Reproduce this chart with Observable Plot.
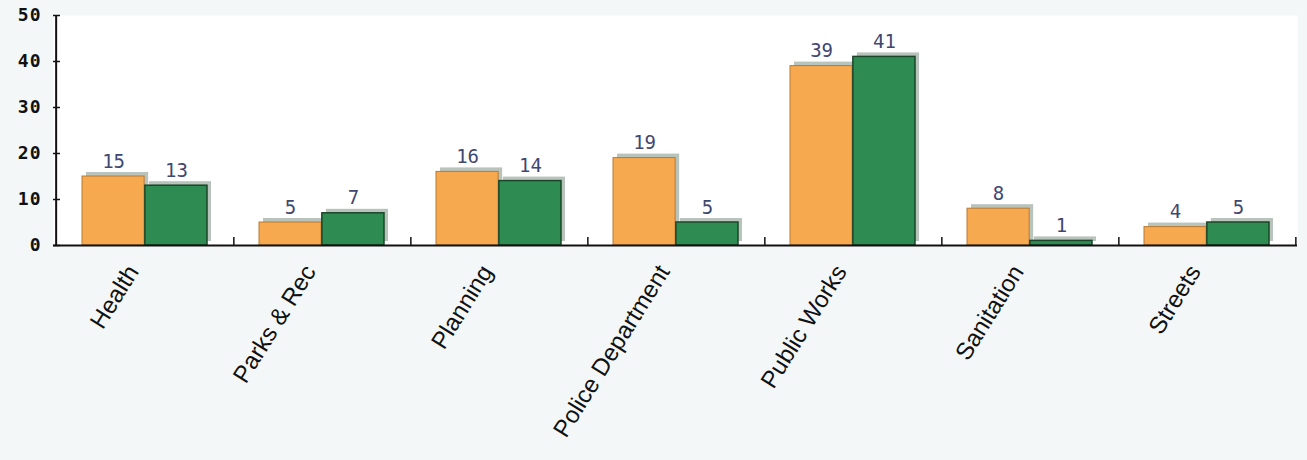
<!DOCTYPE html>
<html><head><meta charset="utf-8">
<script src="https://cdn.jsdelivr.net/npm/d3@7"></script>
<script src="https://cdn.jsdelivr.net/npm/@observablehq/plot@0.6"></script>
<style>
html,body{margin:0;padding:0;background:#f4f7f7;}
#chart svg{display:block;}
</style></head><body><div id="chart"></div>
<script>
const departments = ["Health","Parks & Rec","Planning","Police Department","Public Works","Sanitation","Streets"];
const seriesA = [15,5,16,19,39,8,4];   // orange
const seriesB = [13,7,14,5,41,1,5];    // green
const yTicks = [0,10,20,30,40,50];

const W = 1307, H = 460, mL = 53, mR = 10, mT = 15, mB = 215;
const band = (W - mL - mR) / departments.length;
const half = band / 2;
const outer = 26;
const barW = (band - 2 * outer) / 2;

const rowsA = departments.map((d, i) => ({dept: d, value: seriesA[i]}));
const rowsB = departments.map((d, i) => ({dept: d, value: seriesB[i]}));

const orange = "#f6a94f", orangeStroke = "#b97a35";
const green = "#2e8c52", greenStroke = "#1a4528";
const shadow = "#b8c3bb";
const labelColor = "#3f4872";

const insA = {insetLeft: outer, insetRight: outer + barW};
const insB = {insetLeft: outer + barW, insetRight: outer};

const chart = Plot.plot({
  width: W, height: H,
  marginLeft: mL, marginRight: mR, marginTop: mT, marginBottom: mB,
  style: {background: "transparent", overflow: "visible"},
  x: {type: "band", domain: departments, padding: 0, label: null},
  y: {domain: [0, 50], label: null},
  marks: [
    Plot.frame({fill: "white", stroke: "none"}),
    // shadows
    Plot.barY(rowsA, {x: "dept", y: "value", ...insA, dx: 4, dy: -4, fill: shadow}),
    Plot.barY(rowsB, {x: "dept", y: "value", ...insB, dx: 4, dy: -4, fill: shadow}),
    // bars
    Plot.barY(rowsA, {x: "dept", y: "value", ...insA, fill: orange, stroke: orangeStroke, strokeWidth: 1}),
    Plot.barY(rowsB, {x: "dept", y: "value", ...insB, fill: green, stroke: greenStroke, strokeWidth: 1.5}),
    // value labels
    Plot.text(rowsA, {x: "dept", y: "value", text: d => String(d.value), dx: -(barW / 2), dy: -9, lineAnchor: "bottom",
      fontFamily: "DejaVu Sans Mono", fontSize: 19, fill: labelColor}),
    Plot.text(rowsB, {x: "dept", y: "value", text: d => String(d.value), dx: barW / 2, dy: -9, lineAnchor: "bottom",
      fontFamily: "DejaVu Sans Mono", fontSize: 19, fill: labelColor}),
    // axis lines
    Plot.ruleY([0], {stroke: "#111", strokeWidth: 2}),
    Plot.ruleX([departments[0]], {dx: -half, stroke: "#111", strokeWidth: 2}),
    // y ticks (inside) and labels
    Plot.axisY(yTicks, {tickSize: 7, dx: 7, tickFormat: () => "", label: null, stroke: "#111", strokeWidth: 1.5}),
    Plot.axisY(yTicks, {tickSize: 0, tickPadding: 12, label: null, fontFamily: "DejaVu Sans Mono", fontWeight: "bold", fontSize: 18, fill: "#111", tickFormat: d => String(d)}),
    // x ticks at category boundaries (pointing up)
    Plot.axisX({tickSize: 8, dx: half, dy: -8, tickFormat: () => "", label: null, stroke: "#111", strokeWidth: 1.5}),
    // category labels
    Plot.axisX({tickSize: 0, tickPadding: 22, tickRotate: -58, textAnchor: "end", lineAnchor: "middle", dx: -12, label: null,
      fontFamily: "Liberation Sans, Arial, sans-serif", fontSize: 24, fill: "#111"})
  ]
});
d3.select(chart).selectAll('[aria-label="y-axis tick label"] text').attr("letter-spacing", "1px");
document.getElementById("chart").appendChild(chart);
</script></body></html>
